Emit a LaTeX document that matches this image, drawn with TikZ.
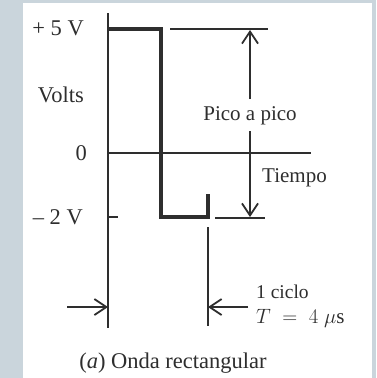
\documentclass[tikz,border=0pt]{standalone}
\usepackage{fontspec}
\setmainfont{Liberation Serif}
\usetikzlibrary{arrows.meta}
\definecolor{bgc}{HTML}{CAD5DC}
\definecolor{ink}{HTML}{2E2E2E}
\begin{document}
\begin{tikzpicture}[x=1pt,y=-1pt,
  thin line/.style={line width=1.8pt,ink},
  wave/.style={line width=3.2pt,ink,line join=miter},
  arr/.style={thin line,-{Straight Barb[length=12pt,width=16pt,line width=1.8pt]}},
  lbl/.style={inner sep=0pt,font=\fontsize{21}{23}\selectfont,text=ink},
  big/.style={lbl,font=\fontsize{22.5}{24}\selectfont},
  small/.style={lbl,font=\fontsize{19.5}{21}\selectfont}]
\useasboundingbox (0,0) rectangle (376,378);
\fill[bgc] (0,0) rectangle (376,378);
\fill[white] (23,3) rectangle (372,378);
% axis
\coordinate (atop) at (108,13);
\coordinate (abot) at (108,328);
\draw[thin line] (atop) -- (abot);
\coordinate (z0) at (108,153);
\coordinate (z1) at (311,153);
\draw[thin line] (z0) -- (z1);
\coordinate (t0) at (108,217);
\coordinate (t1) at (118,217);
\draw[thin line] (t0) -- (t1);
% waveform
\coordinate (w0) at (108,29);
\coordinate (w1) at (161,29);
\coordinate (w2) at (161,217);
\coordinate (w3) at (208,217);
\coordinate (w4) at (208,194);
\draw[wave] (w0) -- (w1) -- (w2) -- (w3) -- (w4);
% level lines
\coordinate (p0) at (170,29);
\coordinate (p1) at (268,29);
\draw[thin line] (p0) -- (p1);
\coordinate (n0) at (215,218);
\coordinate (n1) at (265,218);
\draw[thin line] (n0) -- (n1);
% peak to peak
\node[lbl] (pp) at (250,116) {Pico a pico};
\coordinate (ptop) at (250,30);
\coordinate (pbot) at (250,217);
\coordinate (pu) at (250,99);
\coordinate (pl) at (250,131);
\draw[arr] (pu) -- (ptop);
\draw[arr] (pl) -- (pbot);
% period
\coordinate (c0) at (208,227);
\coordinate (c1) at (208,326);
\draw[thin line] (c0) -- (c1);
\coordinate (la) at (67,307);
\coordinate (lb) at (108,307);
\draw[arr] (la) -- (lb);
\coordinate (ra) at (248,307);
\coordinate (rb) at (208,307);
\draw[arr] (ra) -- (rb);
% labels
\node[big,anchor=east] (l5) at (84,28) {+ 5 V};
\node[big,anchor=east] (lv) at (84,95) {Volts};
\node[big,anchor=east] (l0) at (87,153) {0};
\node[big,anchor=east] (l2) at (83,217) {\textendash\ 2 V};
\node[lbl,anchor=west] (lt) at (262,178) {Tiempo};
\node[small,anchor=west] (lc) at (256,292) {1 ciclo};
\node[lbl,anchor=west] (lT) at (256,318) {$T\;=\;4\;\mu\mathrm{s}$};
\node[big] (cap) at (173,363) {(\textit{a}) Onda rectangular};
\end{tikzpicture}
\end{document}
